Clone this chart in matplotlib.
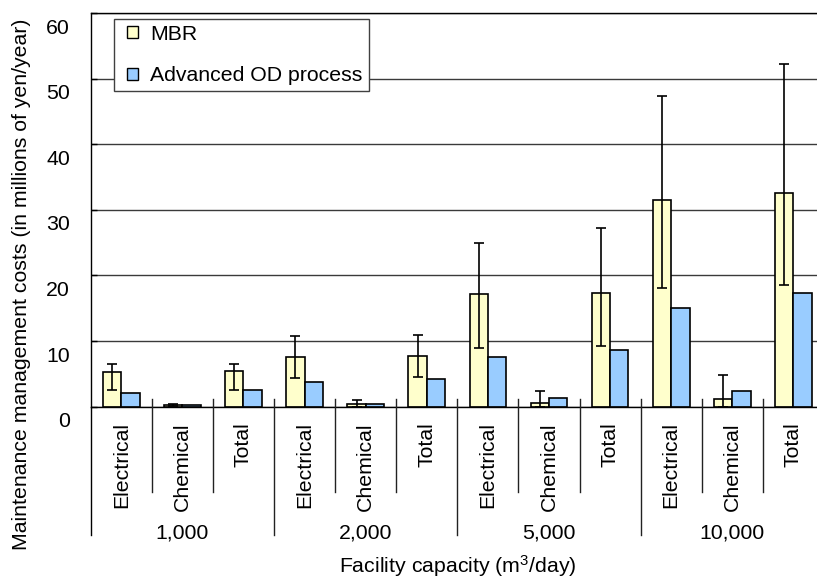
import matplotlib
matplotlib.use("Agg")
import matplotlib.pyplot as plt
import matplotlib.transforms as mtransforms
import numpy as np
from matplotlib.patches import Rectangle, Patch
from matplotlib.legend_handler import HandlerPatch

plt.rcParams['font.family'] = ['Liberation Sans', 'DejaVu Sans']
plt.rcParams['mathtext.fontset'] = 'custom'
plt.rcParams['mathtext.rm'] = 'Liberation Sans'
plt.rcParams['mathtext.it'] = 'Liberation Sans:italic'

# ---- data -------------------------------------------------------------
capacities = ['1,000', '2,000', '5,000', '10,000']
cost_types = ['Electrical', 'Chemical', 'Total']

mbr_cost = [5.3, 0.3, 5.5, 7.6, 0.35, 7.8, 17.1, 0.5, 17.4, 31.5, 1.15, 32.5]
mbr_low = [2.5, 0.1, 2.5, 4.4, 0.0, 4.5, 8.9, 0.0, 9.2, 18.1, 0.0, 18.5]
mbr_high = [6.5, 0.45, 6.5, 10.8, 1.0, 11.0, 24.9, 2.35, 27.3, 47.4, 4.9, 52.3]
od_cost = [2.1, 0.25, 2.5, 3.8, 0.45, 4.2, 7.6, 1.25, 8.7, 15.1, 2.35, 17.4]

y_ticks = [0, 10, 20, 30, 40, 50, 60]

MBR_COLOR = '#FFFFCC'
OD_COLOR = '#99CCFF'
FS = 15.3

# ---- figure / axes ----------------------------------------------------
W, H = 817, 581
fig = plt.figure(figsize=(W / 100, H / 100), dpi=100)
ax = fig.add_axes([90.7 / W, (H - 406.7) / H, (824 - 90.7) / W, (406.7 - 13) / H])

labels = [t for _ in capacities for t in cost_types]
n = len(labels)
x = np.arange(n)
bw = 0.3

mbr = np.array(mbr_cost)
ax.bar(x - bw / 2, mbr, bw, color=MBR_COLOR, edgecolor='black', linewidth=1.2, zorder=2)
ax.bar(x + bw / 2, od_cost, bw, color=OD_COLOR, edgecolor='black', linewidth=1.2, zorder=2)
ax.errorbar(x - bw / 2, mbr,
            yerr=[mbr - np.array(mbr_low), np.array(mbr_high) - mbr],
            fmt='none', ecolor='black', elinewidth=1.2, capsize=3.9, capthick=1.2, zorder=3)

ax.set_xlim(-0.5, n - 0.5)
ax.set_ylim(0, 60)
ax.set_yticks(y_ticks)
ax.yaxis.grid(True, color='#3a3a3a', linewidth=1.0)
ax.set_axisbelow(True)
ax.tick_params(axis='y', direction='in', length=4.5, width=1, pad=15, labelsize=FS)
shift = mtransforms.ScaledTranslation(0, -0.13, fig.dpi_scale_trans)
for tk in ax.yaxis.get_major_ticks():
    tk.label1.set_transform(tk.label1.get_transform() + shift)

# category labels under each bar pair
ax.set_xticks(x, labels, rotation=90, fontsize=FS)
ax.tick_params(axis='x', length=0, pad=11.2)

ax.spines['right'].set_visible(False)
for side in ['left', 'top', 'bottom']:
    ax.spines[side].set_color('black')
    ax.spines[side].set_linewidth(1.0)

# separators between categories and capacity groups
xt = ax.get_xaxis_transform()
ax.plot([-0.5, -0.5], [0, -0.326], color='black', lw=1.0, transform=xt, clip_on=False)
for b in np.arange(0.5, n - 0.5, 1.0):
    bottom = -0.326 if int(b + 0.5) % 3 == 0 else -0.2175
    ax.plot([b, b], [0.0188, bottom], color='#222222', lw=1.0, transform=xt,
            clip_on=False, zorder=4)

for gi, cap in enumerate(capacities):
    ax.text(gi * 3 + 1, -0.32, cap, transform=xt, ha='center', va='center', fontsize=FS)

fig.text(458 / W, (H - 572.7) / H, r'Facility capacity (m$^3$/day)',
         ha='center', va='baseline', fontsize=FS)
fig.text(22 / W, 1 - 284 / H, 'Maintenance management costs (in millions of yen/year)',
         rotation=90, ha='center', va='center', fontsize=FS)


# ---- legend with small square swatches ---------------------------------
def square_patch(legend, orig_handle, xdescent, ydescent, width, height, fontsize):
    return Rectangle((-xdescent + width - height, -ydescent), height, height)


handles = [Patch(facecolor=MBR_COLOR, edgecolor='black', linewidth=1.0),
           Patch(facecolor=OD_COLOR, edgecolor='black', linewidth=1.0)]
leg = ax.legend(handles, ['MBR', 'Advanced OD process'], loc='upper left',
                bbox_to_anchor=(0.0318, 0.9855), borderaxespad=0, fontsize=FS,
                handlelength=0.85, handleheight=0.45, handletextpad=0.58,
                borderpad=0.28, labelspacing=1.07, frameon=True, fancybox=False,
                edgecolor='#404040', framealpha=1,
                handler_map={Patch: HandlerPatch(patch_func=square_patch)})
leg.get_frame().set_linewidth(1.0)
leg.set_zorder(5)

fig.savefig('out.png', dpi=100)
